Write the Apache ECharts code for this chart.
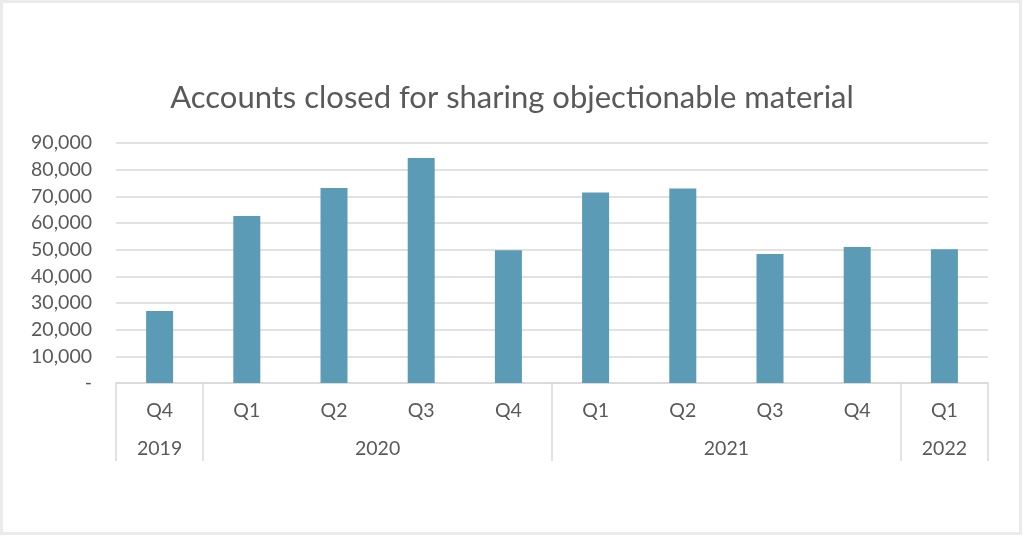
<!DOCTYPE html>
<html>
<head>
<meta charset="utf-8">
<script src="https://cdn.jsdelivr.net/npm/echarts@6/dist/echarts.min.js"></script>
<style>
html,body{margin:0;padding:0;background:#fff;}
#chart{width:1024px;height:536px;}
</style>
</head>
<body>
<div id="chart"></div>
<script>
var quarters = ['Q4','Q1','Q2','Q3','Q4','Q1','Q2','Q3','Q4','Q1'];
var values = [27000, 62600, 73100, 84400, 49800, 71400, 72900, 48400, 51000, 50200];
var years = ['2019','2020','2021','2022'];
var yearCenters = [0.5, 3, 7, 9.5];
var yearBoundaries = [0, 1, 5, 9, 10];
var yTicks = [0,10000,20000,30000,40000,50000,60000,70000,80000,90000];

var chart = echarts.init(document.getElementById('chart'));
var txt = '#595959';
var lineCol = '#d9d9d9';
var fs = 19.5;
chart.setOption({
  animation: false,
  backgroundColor: '#ffffff',
  title: {
    text: 'Accounts closed for sharing objectionable material',
    left: 'center',
    top: 77,
    textStyle: {fontFamily: 'Lato', fontSize: 31, fontWeight: 'normal', color: txt}
  },
  graphic: [{
    type: 'rect',
    shape: {x: 1.5, y: 1.5, width: 1019, height: 532},
    style: {fill: 'none', stroke: '#ebebeb', lineWidth: 3},
    silent: true
  }],
  grid: {left: 116, right: 36, top: 143, bottom: 153},
  xAxis: [{
    type: 'category',
    data: quarters,
    axisLine: {show: true, lineStyle: {color: lineCol, width: 1.5}},
    axisTick: {show: false},
    axisLabel: {color: txt, fontFamily: 'Lato', fontSize: fs, margin: 18, interval: 0}
  }, {
    type: 'value',
    min: 0, max: 10,
    position: 'bottom',
    axisLine: {show: false},
    splitLine: {show: false},
    axisTick: {show: true, customValues: yearBoundaries, length: 78, inside: false,
      lineStyle: {color: lineCol, width: 1.5}},
    axisLabel: {show: true, customValues: yearCenters, color: txt, fontFamily: 'Lato', fontSize: fs, margin: 56,
      formatter: function (v) { var i = yearCenters.indexOf(v); return i >= 0 ? years[i] : ''; }}
  }],
  yAxis: {
    type: 'value',
    min: 0, max: 90000, interval: 10000,
    axisLine: {show: false},
    axisTick: {show: false},
    splitLine: {lineStyle: {color: lineCol, width: 1.5}},
    axisLabel: {color: txt, fontFamily: 'Lato', fontSize: fs, margin: 24,
      customValues: yTicks,
      formatter: function (v) { return v === 0 ? '-' : v.toLocaleString('en-US'); }}
  },
  series: [{
    type: 'bar',
    data: values,
    xAxisIndex: 0,
    barWidth: 27,
    itemStyle: {color: '#5b9bb6'}
  }]
});
</script>
</body>
</html>
